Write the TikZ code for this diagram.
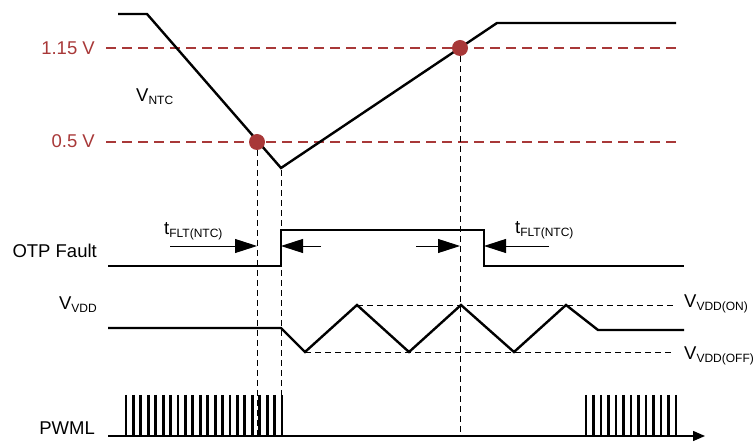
\documentclass[tikz,border=0pt]{standalone}
\usepackage{fontspec}
\setmainfont{Liberation Sans}
\usetikzlibrary{arrows.meta}
\definecolor{thr}{RGB}{168,56,56}
\newcommand\lsub[1]{\raisebox{-3pt}{\fontsize{12}{14}\selectfont #1}}
\begin{document}
\begin{tikzpicture}[x=1pt,y=-1pt,
 wave/.style={line width=2.4pt, line join=miter},
 guide/.style={line width=0.9pt, dash pattern=on 6pt off 4pt},
 thresh/.style={thr, line width=1.2pt, dash pattern=on 10pt off 6pt},
 lbl/.style={font=\fontsize{18.5}{21}\selectfont, inner sep=0pt},
 tlbl/.style={lbl, text=thr},
 dot/.style={circle, fill=thr, minimum size=16pt, inner sep=0pt},
 meas/.style={line width=0.9pt, -{Triangle[length=22pt,width=14pt]}},
 pulse/.style={line width=2.8pt},
]
\useasboundingbox (0,0) rectangle (753,443);
% thresholds
\node[tlbl, anchor=base east] (l115) at (95,55) {1.15 V};
\node[tlbl, anchor=base east] (l05) at (95,148) {0.5 V};
\draw[thresh] (106,48) -- (676,48);
\draw[thresh] (106,142) -- (676,142);
% NTC
\draw[wave] (118,14) -- (147,14) -- (281,168) -- (497,23) -- (676,23);
\node[lbl, anchor=base west] (vntc) at (136,102) {V\lsub{NTC}};
% guides
\draw[guide] (257,150) -- (257,436);
\draw[guide] (281,170) -- (281,436);
\draw[guide] (460,56) -- (460,436);
\node[dot] (d1) at (257,142) {};
\node[dot] (d2) at (460,48) {};
% OTP
\node[lbl, anchor=base east] (otp) at (97,258) {OTP Fault};
\draw[wave] (108,266) -- (281,266) -- (281,230) -- (484,230) -- (484,266) -- (684,266);
\coordinate (a1) at (170,246); \coordinate (a1e) at (257,246);
\coordinate (a2) at (321,246); \coordinate (a2e) at (281,246);
\coordinate (a3) at (416,246); \coordinate (a3e) at (460,246);
\coordinate (a4) at (549,246); \coordinate (a4e) at (484,246);
\draw[meas] (a1) -- (a1e);
\draw[meas] (a2) -- (a2e);
\draw[meas] (a3) -- (a3e);
\draw[meas] (a4) -- (a4e);
\node[lbl, anchor=base west] (tf1) at (164,235) {t\lsub{FLT(NTC)}};
\node[lbl, anchor=base west] (tf2) at (515,234) {t\lsub{FLT(NTC)}};
% VDD
\node[lbl, anchor=base east] (vdd) at (97,310) {V\lsub{VDD}};
\draw[wave] (108,328) -- (281,328) -- (305,352) -- (357,305) -- (409,352) -- (461,305) -- (514,352) -- (566,305) -- (598,330) -- (684,330);
\draw[guide] (357,305) -- (673,305);
\draw[guide] (305,352) -- (673,352);
\node[lbl, anchor=base west] (von) at (684,308) {V\lsub{VDD(ON)}};
\node[lbl, anchor=base west] (voff) at (684,360) {V\lsub{VDD(OFF)}};
% PWML
\node[lbl, anchor=base east] (pwml) at (95,435) {PWML};
\draw[line width=1.4pt, -{Triangle[length=12pt,width=10pt]}] (108,436) -- (705,436);
\foreach \i in {0,...,21} \draw[pulse] ({126+\i*7.43},395) -- ({126+\i*7.43},436);
\foreach \i in {0,...,12} \draw[pulse] ({586+\i*7.5},395) -- ({586+\i*7.5},436);
\end{tikzpicture}
\end{document}
